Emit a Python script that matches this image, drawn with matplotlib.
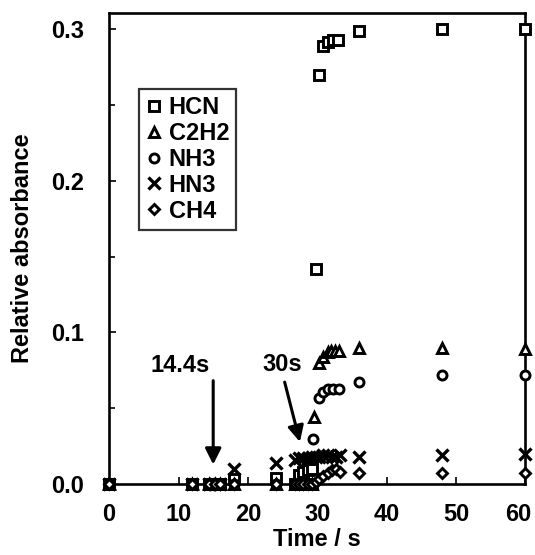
import matplotlib
matplotlib.use('Agg')
import matplotlib.pyplot as plt
from matplotlib.ticker import MultipleLocator

plt.rcParams['font.family'] = ['Liberation Sans', 'DejaVu Sans']
plt.rcParams['font.weight'] = 'bold'

# data (time in s, relative absorbance)
hcn_t = [0, 12, 14.4, 15.2, 16, 18, 24, 26.8, 27.4, 28.0, 28.6, 29.2,
         27.4, 28.0, 28.6, 29.2, 29.8, 30.3, 30.9, 31.5, 32.2, 33.0, 36, 48, 60]
hcn_v = [0, 0, 0, 0, 0, 0.003, 0.004, 0, 0, 0, 0, 0,
         0.006, 0.008, 0.009, 0.010, 0.142, 0.270, 0.289, 0.292, 0.293, 0.293,
         0.299, 0.300, 0.300]

c2h2_t = [0, 12, 14.4, 15.2, 16, 18, 24, 26.8, 27.4, 28.0, 28.6, 29.2,
          29.6, 30.3, 30.9, 31.5, 32.0, 32.6, 33.2, 36, 48, 60]
c2h2_v = [0, 0, 0, 0, 0, 0, 0, 0, 0, 0, 0, 0,
          0.044, 0.080, 0.084, 0.087, 0.088, 0.088, 0.088, 0.090, 0.090, 0.089]

nh3_t = [0, 12, 14.4, 15.2, 16, 18, 24, 26.8, 27.4, 28.0, 28.6, 29.2,
         29.4, 30.3, 30.9, 31.6, 32.3, 33.1, 36, 48, 60]
nh3_v = [0, 0, 0, 0, 0, 0, 0, 0, 0, 0, 0, 0,
         0.030, 0.057, 0.061, 0.063, 0.063, 0.063, 0.067, 0.072, 0.072]

hn3_t = [0, 12, 14.4, 15.2, 16, 18, 24, 26.8, 27.4, 28.0, 28.6, 29.2,
         29.8, 30.3, 30.9, 31.5, 32.1, 32.7, 33.3, 36, 48, 60]
hn3_v = [0, 0, 0, 0, 0, 0.010, 0.014, 0.016, 0.017, 0.017, 0.017, 0.018,
         0.018, 0.018, 0.019, 0.019, 0.018, 0.018, 0.019, 0.018, 0.019, 0.020]

ch4_t = [0, 12, 14.4, 15.2, 16, 18, 24, 26.8, 27.4, 28.0, 28.6, 29.2,
         29.8, 30.3, 30.9, 31.5, 32.1, 32.7, 33.3, 36, 48, 60]
ch4_v = [0, 0, 0, 0, 0, 0, 0, 0, 0, 0, 0, 0,
         0.001, 0.003, 0.005, 0.007, 0.009, 0.010, 0.008, 0.007, 0.007, 0.007]

x_ticks = [0, 10, 20, 30, 40, 50, 60]
y_ticks = [0, 0.1, 0.2, 0.3]
y_labels = ['0.0', '0.1', '0.2', '0.3']

series = [
    (hcn_t, hcn_v, 's', 6.8, 'HCN'),
    (c2h2_t, c2h2_v, '^', 6.8, 'C2H2'),
    (nh3_t, nh3_v, 'o', 6.5, 'NH3'),
    (hn3_t, hn3_v, 'x', 8, 'HN3'),
    (ch4_t, ch4_v, 'D', 5, 'CH4'),
]

fig = plt.figure(figsize=(5.35, 5.55), dpi=100)
ax = fig.add_axes([0.204, 0.128, 0.778, 0.849])

for t, v, m, ms, name in series:
    ax.plot(t, v, linestyle='none', marker=m, markersize=ms,
            markerfacecolor='white' if m != 'x' else 'k',
            markeredgecolor='k', markeredgewidth=2.4 if m == 'x' else 2.1,
            label=name, clip_on=False, zorder=3)

ax.set_xlim(0, 60)
ax.set_ylim(0, 0.311)
# the last x label would run off the figure, so it is drawn on its own below
ax.set_xticks(x_ticks, labels=[str(v) for v in x_ticks[:-1]] + [''])
ax.set_yticks(y_ticks, labels=y_labels)
ax.yaxis.set_minor_locator(MultipleLocator(0.05))
ax.tick_params(axis='both', which='both', direction='in', top=False, right=False,
               labelsize=17, width=1.2)
ax.tick_params(axis='x', which='major', length=5, pad=14)
ax.tick_params(axis='y', which='major', length=5, pad=18)
ax.tick_params(axis='both', which='minor', length=4)
for lab in ax.get_xticklabels() + ax.get_yticklabels():
    lab.set_fontweight('bold')
ax.annotate(str(x_ticks[-1]), xy=(x_ticks[-1], 0), xycoords=('data', 'axes fraction'),
            xytext=(-5, -14), textcoords='offset points', ha='center', va='top',
            fontsize=17, fontweight='bold')
for sp in ax.spines.values():
    sp.set_linewidth(1.9)

ax.set_xlabel('Time / s', fontsize=17, fontweight='bold', labelpad=1)
ax.set_ylabel('Relative absorbance', fontsize=17, fontweight='bold', labelpad=12)

ax.annotate('', xy=(15.0, 0.011), xytext=(15.0, 0.070),
            arrowprops=dict(arrowstyle='-|>', color='k', lw=2.2, mutation_scale=24))
ax.text(10.3, 0.078, '14.4s', fontsize=17, fontweight='bold', ha='center', va='center')
ax.annotate('', xy=(27.6, 0.026), xytext=(25.2, 0.069),
            arrowprops=dict(arrowstyle='-|>', color='k', lw=2.2, mutation_scale=24))
ax.text(25.0, 0.079, '30s', fontsize=17, fontweight='bold', ha='center', va='center')

leg = ax.legend(loc='upper left', bbox_to_anchor=(0.072, 0.838),
                frameon=True, fancybox=False, edgecolor='k', handlelength=0.7,
                handletextpad=0.25, labelspacing=0.12, borderpad=0.3,
                borderaxespad=0, prop={'weight': 'bold', 'size': 17})
leg.get_frame().set_linewidth(1.6)

fig.savefig('out.png', dpi=100)
